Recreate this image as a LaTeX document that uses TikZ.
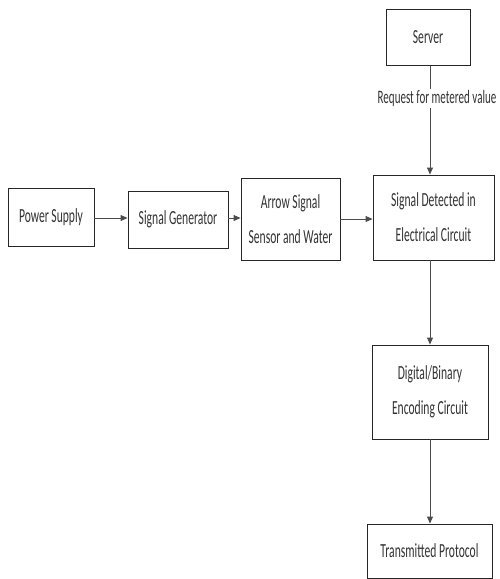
\documentclass[tikz,border=0pt]{standalone}
\usepackage{fontspec}
\setmainfont{Carlito}[FakeStretch=0.58]
\usetikzlibrary{arrows.meta}
\tikzset{
  blk/.style={draw=black!85, line width=0.9pt, fill=white, align=center, inner sep=0pt,
    font=\fontsize{20}{35}\selectfont, text=black!80},
  conn/.style={draw=black!70, line width=0.9pt, -{Triangle[length=7pt,width=6pt]}},
  lbl/.style={fill=white, inner sep=1pt, font=\fontsize{19}{20}\selectfont, text=black!80}
}
\begin{document}
\begin{tikzpicture}[x=1pt,y=-1pt]
\useasboundingbox (0,0) rectangle (500,579);
\node[blk, minimum width=84pt, minimum height=56pt] (server) at (428,37.5) {Server};
\node[blk, minimum width=86pt, minimum height=58pt] (ps) at (51,217) {Power Supply};
\node[blk, minimum width=100pt, minimum height=57pt] (sg) at (178,219.5) {Signal Generator};
\node[blk, minimum width=99pt, minimum height=82pt] (as) at (290.5,219) {Arrow Signal\\Sensor and Water};
\node[blk, minimum width=121pt, minimum height=85pt] (sd) at (433.5,217.5) {Signal Detected in\\Electrical Circuit};
\node[blk, minimum width=116pt, minimum height=94pt] (db) at (430,392) {Digital/Binary\\Encoding Circuit};
\node[blk, minimum width=125pt, minimum height=54pt] (tp) at (429.5,551) {Transmitted Protocol};
\coordinate (ax) at (430,0);
\draw[conn] (ps.east |- 0,218) -- (sg.west |- 0,218);
\draw[conn] (sg.east |- 0,218) -- (as.west |- 0,218);
\draw[conn] (as.east |- 0,219) -- (sd.west |- 0,219);
\draw[conn] (server.south -| ax) -- node[lbl, pos=0.3, xshift=7pt] (req) {Request for metered value} (sd.north -| ax);
\draw[conn] (sd.south -| ax) -- (db.north -| ax);
\draw[conn] (db.south -| ax) -- (tp.north -| ax);
\end{tikzpicture}
\end{document}
